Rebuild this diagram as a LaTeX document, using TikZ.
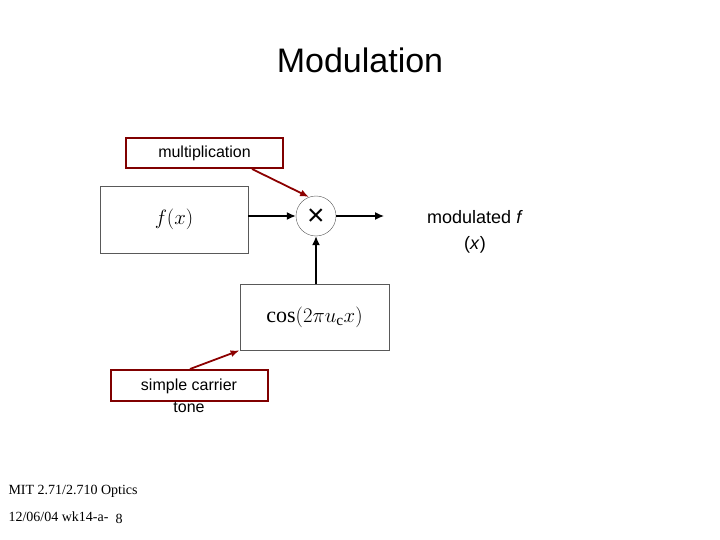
\documentclass[tikz,border=0pt]{standalone}
\usepackage{fontspec}
\setmainfont{Liberation Serif}
\setsansfont{Liberation Sans}
\usetikzlibrary{arrows.meta}
\begin{document}
\begin{tikzpicture}[x=1pt,y=-1pt,
  gbox/.style={draw=gray!70!black,line width=0.8pt,fill=white},
  rbox/.style={draw=red!50!black,line width=2.4pt,fill=white,font=\sffamily\fontsize{16}{19}\selectfont},
  blk/.style={-{Latex[length=9pt,width=8pt]},line width=1.4pt},
  red arrow/.style={-{Latex[length=9pt,width=7pt]},line width=1.8pt,draw=red!55!black}]
\useasboundingbox (0,0) rectangle (720,540);
\node[font=\sffamily\fontsize{34}{40}\selectfont] (title) at (360,60) {Modulation};
\node[rbox,minimum width=157pt,minimum height=30pt] (mult) at (204.5,153) {multiplication};
\node[gbox,minimum width=148pt,minimum height=67pt] (f) at (174,219.5) {\fontsize{22}{24}\selectfont$f(x)$};
\node[draw=gray!70!black,circle,minimum size=40pt,inner sep=0pt] (c) at (316,216) {};
\node[font=\sffamily\fontsize{30}{30}\selectfont] (cx) at (316,217) {×};
\node[gbox,minimum width=149pt,minimum height=66pt] (cos) at (314.5,317) {\fontsize{22}{24}\selectfont$\cos(2\pi u_{\mathrm c}x)$};
\node[rbox,minimum width=157pt,minimum height=31pt,inner sep=0pt] (sc) at (189.5,385.5) {};
\node[font=\sffamily\fontsize{16}{22}\selectfont,align=center] (sct) at (189,396) {simple carrier\\tone};
\coordinate (o) at (384,216);
\draw[blk] (f.east |- c) -- (c);
\draw[blk] (c) -- (o);
\draw[blk] (cos.north -| c) -- (c);
\coordinate (m1) at (252,169);
\draw[red arrow] (m1) -- (c.110);
\coordinate (s1) at (190,369);
\draw[red arrow] (s1) -- (cos.south west);
\node[font=\sffamily\fontsize{18}{26}\selectfont,align=center] (mod) at (475,232) {modulated \textit{f}\\(\textit{x})};
\node[anchor=west,font=\fontsize{14}{16}\selectfont] (mit) at (5,491) {MIT 2.71/2.710 Optics};
\node[anchor=west,font=\fontsize{14}{16}\selectfont] (date) at (5,517) {12/06/04 wk14-a-};
\node[font=\fontsize{14}{16}\selectfont] (pg) at (119,519) {8};
\end{tikzpicture}
\end{document}
